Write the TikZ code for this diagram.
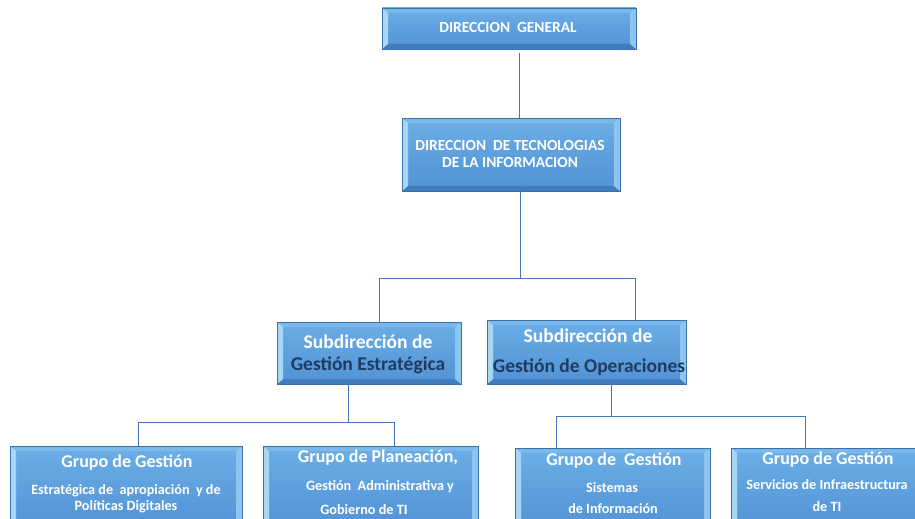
\documentclass[tikz,border=0pt]{standalone}
\usepackage{fontspec}
\setmainfont{Carlito}
\definecolor{facetop}{HTML}{6CAEE6}
\definecolor{facebot}{HTML}{5092D4}
\definecolor{bevtop}{HTML}{7AB9EC}
\definecolor{bevside}{HTML}{A6D8F4}
\definecolor{bevright}{HTML}{8CC6EE}
\definecolor{bevbot}{HTML}{3F7DBE}
\definecolor{boxedge}{HTML}{3A6FA8}
\definecolor{connblue}{HTML}{4178B8}
\definecolor{darktext}{HTML}{1F3B62}
\tikzset{
  bevelbox/.style={draw=boxedge, line width=0.5pt, anchor=north west,
    inner sep=0pt, outer sep=0pt, top color=facetop, bottom color=facebot,
    path picture={
      \fill[bevtop] (path picture bounding box.north west) -- (path picture bounding box.north east)
        -- ([xshift=-6pt,yshift=-5pt]path picture bounding box.north east)
        -- ([xshift=6pt,yshift=-5pt]path picture bounding box.north west) -- cycle;
      \fill[bevbot] (path picture bounding box.south west) -- (path picture bounding box.south east)
        -- ([xshift=-6pt,yshift=5pt]path picture bounding box.south east)
        -- ([xshift=6pt,yshift=5pt]path picture bounding box.south west) -- cycle;
      \fill[bevside] (path picture bounding box.north west)
        -- ([xshift=6pt,yshift=-5pt]path picture bounding box.north west)
        -- ([xshift=6pt,yshift=5pt]path picture bounding box.south west)
        -- (path picture bounding box.south west) -- cycle;
      \fill[bevright] (path picture bounding box.north east)
        -- ([xshift=-6pt,yshift=-5pt]path picture bounding box.north east)
        -- ([xshift=-6pt,yshift=5pt]path picture bounding box.south east)
        -- (path picture bounding box.south east) -- cycle;
    }},
  conn/.style={draw=connblue, line width=1pt},
  wtext/.style={text=white, inner sep=0pt},
  dtext/.style={text=darktext, inner sep=0pt},
  capsf/.style={font=\bfseries\fontsize{15.4}{18}\selectfont},
  subf/.style={font=\bfseries\fontsize{19.5}{23}\selectfont},
  grpf/.style={font=\bfseries\fontsize{18}{21}\selectfont},
  smallf/.style={font=\bfseries\fontsize{14.2}{17}\selectfont}
}
\begin{document}
\begin{tikzpicture}[x=1pt,y=-1pt]
\useasboundingbox (0,0) rectangle (915,519);

% boxes
\node[bevelbox, minimum width=254pt, minimum height=41pt] (dg) at (382,8) {};
\node[bevelbox, minimum width=218pt, minimum height=73pt] (dti) at (402,118) {};
\node[bevelbox, minimum width=184pt, minimum height=62pt] (sub1) at (277,322) {};
\node[bevelbox, minimum width=199pt, minimum height=64pt] (sub2) at (487,320) {};
\node[bevelbox, minimum width=232pt, minimum height=85pt] (g1) at (10,446) {};
\node[bevelbox, minimum width=215pt, minimum height=85pt] (g2) at (263,446) {};
\node[bevelbox, minimum width=195pt, minimum height=85pt] (g3) at (515,448) {};
\node[bevelbox, minimum width=190pt, minimum height=85pt] (g4) at (731,448) {};

% texts
\node[wtext, capsf] (dgt) at (508,28) {DIRECCION\ \ GENERAL};
\node[wtext, capsf] (dtit1) at (510,146) {DIRECCION\ \ DE TECNOLOGIAS};
\node[wtext, capsf] (dtit2) at (510,163) {DE LA INFORMACION};

\node[wtext, subf] (s1a) at (368,342) {Subdirección de};
\node[dtext, subf] (s1b) at (368,365) {Gestión Estratégica};
\node[wtext, subf] (s2a) at (588,336) {Subdirección de};
\node[dtext, subf] (s2b) at (589,367) {Gestión de Operaciones};

\node[wtext, grpf] (g1a) at (127,463) {Grupo de Gestión};
\node[wtext, smallf] (g1b) at (126,491) {Estratégica de\ \ apropiación\ \ y de};
\node[wtext, smallf] (g1c) at (126,507) {Políticas Digitales};

\node[wtext, grpf] (g2a) at (378,458) {Grupo de Planeación,};
\node[wtext, smallf] (g2b) at (380,487) {Gestión\ \ Administrativa y};
\node[wtext, smallf] (g2c) at (364,510) {Gobierno de TI};

\node[wtext, grpf] (g3a) at (614,461) {Grupo de\ \ Gestión};
\node[wtext, smallf] (g3b) at (612,488) {Sistemas};
\node[wtext, smallf] (g3c) at (613,509) {de Información};

\node[wtext, grpf] (g4a) at (828,460) {Grupo de Gestión};
\node[wtext, smallf] (g4b) at (827,485) {Servicios de Infraestructura};
\node[wtext, smallf] (g4c) at (827,507) {de TI};

% connectors
\coordinate (dgb) at (519,53);
\draw[conn] (dgb) -- (dgb |- dti.north);

\coordinate (bus0) at (520,278);
\coordinate (bus0l) at (379,278);
\coordinate (bus0r) at (635,278);
\draw[conn] (dti.south -| bus0) -- (bus0);
\draw[conn] (bus0l) -- (bus0r);
\draw[conn] (bus0l) -- (bus0l |- sub1.north);
\draw[conn] (bus0r) -- (bus0r |- sub2.north);

\coordinate (bus1) at (348,422);
\coordinate (bus1l) at (138,422);
\coordinate (bus1r) at (394,422);
\draw[conn] (bus1 |- sub1.south) -- (bus1);
\draw[conn] (bus1l) -- (bus1r);
\draw[conn] (bus1l) -- (bus1l |- g1.north);
\draw[conn] (bus1r) -- (bus1r |- g2.north);

\coordinate (bus2) at (611,416);
\coordinate (bus2l) at (556,416);
\coordinate (bus2r) at (805,416);
\draw[conn] (bus2 |- sub2.south) -- (bus2);
\draw[conn] (bus2l) -- (bus2r);
\draw[conn] (bus2l) -- (bus2l |- g3.north);
\draw[conn] (bus2r) -- (bus2r |- g4.north);
\end{tikzpicture}
\end{document}
